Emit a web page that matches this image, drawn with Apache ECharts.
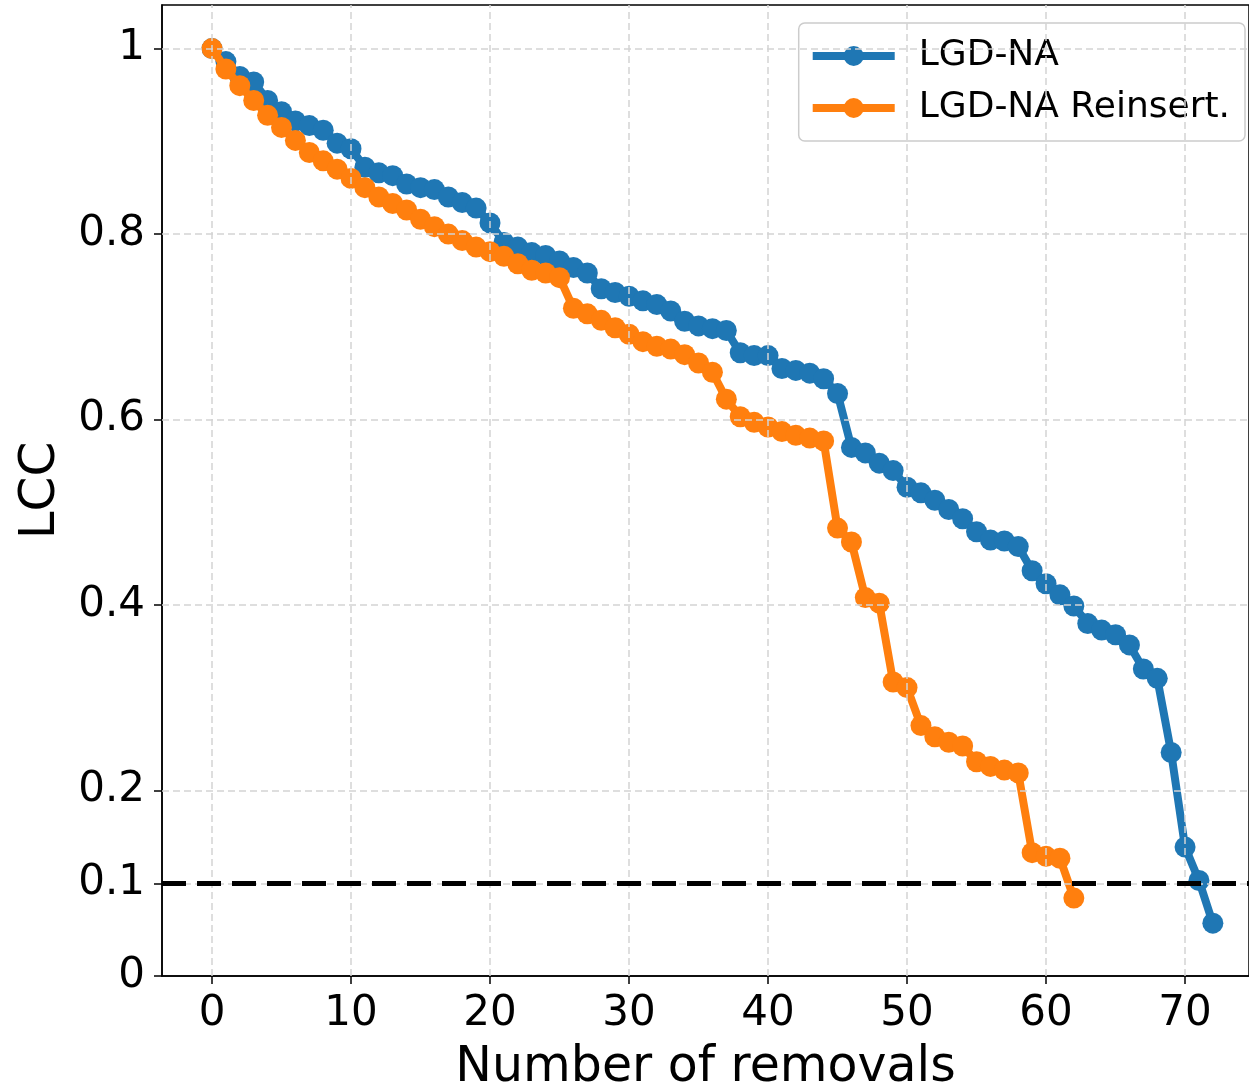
<!DOCTYPE html>
<html>
<head>
<meta charset="utf-8">
<script src="https://cdn.jsdelivr.net/npm/echarts@6/dist/echarts.min.js"></script>
<style>
html,body{margin:0;padding:0;background:#fff;}
#chart{width:1249px;height:1090px;}
</style>
</head>
<body>
<div id="chart"></div>
<script>
// ---- data ----
const seriesNames = ['LGD-NA', 'LGD-NA Reinsert.'];
const lgdNA = [
  1.000, 0.986, 0.970, 0.964, 0.944, 0.932, 0.922, 0.917, 0.912, 0.898,
  0.892, 0.872, 0.866, 0.863, 0.854, 0.850, 0.848, 0.840, 0.834, 0.828,
  0.812, 0.791, 0.786, 0.780, 0.777, 0.771, 0.764, 0.758, 0.741, 0.737,
  0.733, 0.728, 0.724, 0.717, 0.706, 0.701, 0.698, 0.696, 0.672, 0.669,
  0.669, 0.655, 0.653, 0.650, 0.644, 0.628, 0.570, 0.564, 0.553, 0.545,
  0.527, 0.521, 0.513, 0.503, 0.493, 0.479, 0.470, 0.469, 0.463, 0.437,
  0.423, 0.411, 0.399, 0.380, 0.373, 0.368, 0.357, 0.331, 0.321, 0.241,
  0.139, 0.103, 0.057
];
const lgdNAReinsert = [
  1.000, 0.978, 0.960, 0.944, 0.928, 0.915, 0.901, 0.888, 0.879, 0.870,
  0.860, 0.850, 0.840, 0.833, 0.826, 0.816, 0.808, 0.800, 0.793, 0.786,
  0.781, 0.776, 0.768, 0.761, 0.758, 0.753, 0.720, 0.714, 0.707, 0.699,
  0.692, 0.684, 0.679, 0.676, 0.670, 0.661, 0.651, 0.622, 0.603, 0.597,
  0.592, 0.587, 0.583, 0.580, 0.577, 0.483, 0.468, 0.408, 0.402, 0.317,
  0.311, 0.270, 0.258, 0.252, 0.248, 0.231, 0.226, 0.222, 0.219, 0.133,
  0.129, 0.127, 0.084
];
const xTicks = [0, 10, 20, 30, 40, 50, 60, 70];
const yTicks = [0, 0.1, 0.2, 0.4, 0.6, 0.8, 1];
const threshold = 0.1;

// ---- chart ----
const toPairs = arr => arr.map((v, i) => [i, v]);
const FONT = 'DejaVu Sans';
const chart = echarts.init(document.getElementById('chart'), null, {renderer: 'canvas'});

const gridStyle = {color: '#d4d4d4', width: 1.5, type: [7, 4]};

chart.setOption({
  animation: false,
  backgroundColor: '#fff',
  grid: {
    left: 162, right: 0, top: 5, bottom: 114,
    outerBoundsMode: 'none',
    containLabel: false,
    show: true, borderColor: '#000', borderWidth: 1.5, backgroundColor: 'transparent'
  },
  xAxis: {
    type: 'value',
    min: -3.597, max: 74.6,
    name: 'Number of removals',
    nameLocation: 'middle',
    nameGap: 68,
    nameTextStyle: {fontFamily: FONT, fontSize: 49, color: '#000'},
    axisLine: {onZero: false, lineStyle: {color: '#000', width: 1.5}},
    axisTick: {show: true, customValues: xTicks, length: 8, lineStyle: {color: '#000', width: 1.5}},
    axisLabel: {customValues: xTicks, fontFamily: FONT, fontSize: 42, color: '#000', margin: 17},
    splitLine: {show: false}
  },
  yAxis: {
    type: 'value',
    min: 0, max: 1.047,
    name: 'LCC',
    nameLocation: 'middle',
    nameGap: 96,
    nameTextStyle: {fontFamily: FONT, fontSize: 50, color: '#000'},
    axisLine: {show: true, onZero: false, lineStyle: {color: '#000', width: 1.5}},
    axisTick: {show: true, customValues: yTicks, length: 8, lineStyle: {color: '#000', width: 1.5}},
    axisLabel: {customValues: yTicks, fontFamily: FONT, fontSize: 42, color: '#000', margin: 17,
      formatter: v => String(v)},
    splitLine: {show: false}
  },
  legend: {
    data: seriesNames,
    orient: 'vertical',
    right: 4, top: 23,
    padding: [13, 15, 13, 10],
    itemWidth: 82, itemHeight: 25, itemGap: 12,
    backgroundColor: 'rgba(255,255,255,0.8)',
    borderColor: '#cccccc', borderWidth: 1.5, borderRadius: 6,
    lineStyle: {width: 8},
    textStyle: {fontFamily: FONT, fontSize: 36, color: '#000', lineHeight: 40, padding: [0, 0, 0, 19]}
  },
  series: [
    {
      name: '_grid',
      type: 'line',
      data: [],
      z: 1,
      silent: true,
      markLine: {
        silent: true, symbol: 'none', label: {show: false}, animation: false,
        lineStyle: gridStyle,
        data: xTicks.map(v => ({xAxis: v})).concat(yTicks.filter(v => v > 0).map(v => ({yAxis: v})))
      }
    },
    {
      name: seriesNames[0],
      type: 'line',
      data: toPairs(lgdNA),
      z: 3,
      color: '#1f77b4',
      symbol: 'circle', symbolSize: 21,
      showAllSymbol: true,
      lineStyle: {width: 8, color: '#1f77b4'},
      itemStyle: {color: '#1f77b4'}
    },
    {
      name: seriesNames[1],
      type: 'line',
      data: toPairs(lgdNAReinsert),
      z: 4,
      color: '#ff7f0e',
      symbol: 'circle', symbolSize: 21,
      showAllSymbol: true,
      lineStyle: {width: 8, color: '#ff7f0e'},
      itemStyle: {color: '#ff7f0e'}
    },
    {
      name: '_threshold',
      type: 'line',
      data: [],
      z: 6,
      silent: true,
      markLine: {
        silent: true, symbol: 'none', label: {show: false}, animation: false,
        lineStyle: {color: '#000', width: 5, type: [24, 11]},
        data: [{yAxis: threshold}]
      }
    }
  ]
});
</script>
</body>
</html>
